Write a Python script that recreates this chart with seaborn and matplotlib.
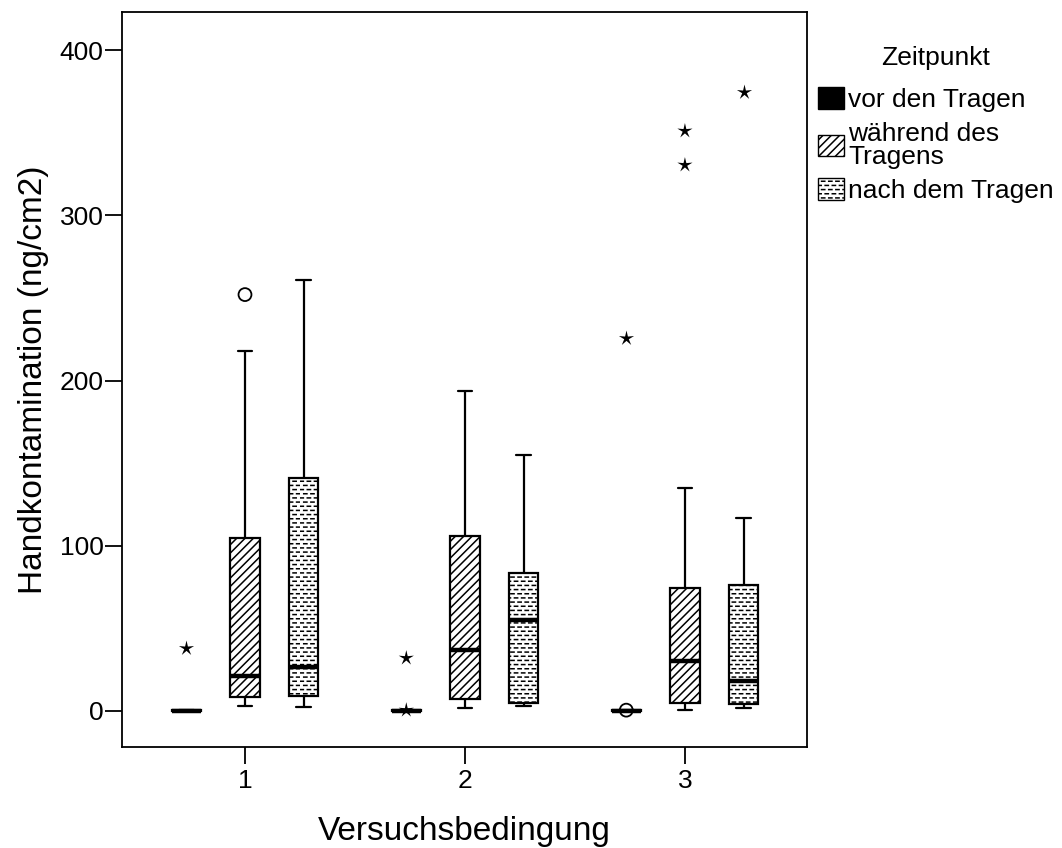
import warnings
import numpy as np
import pandas as pd
import matplotlib
matplotlib.use("Agg")
import matplotlib.pyplot as plt
from matplotlib.patches import Patch
from matplotlib.path import Path
from matplotlib import hatch as mhatch
import seaborn as sns

warnings.filterwarnings("ignore")

# ---------------- data ----------------
conditions = ["1", "2", "3"]
timepoints = ["vor den Tragen", "während des\nTragens", "nach dem Tragen"]

# five-number summaries per box: [whisker low, Q1, median, Q3, whisker high]
vor_stats = [[0.0, 0.0, 0.2, 0.4, 0.8],
             [0.0, 0.0, 0.2, 0.4, 0.8],
             [0.0, 0.0, 0.2, 0.4, 0.8]]
waehrend_stats = [[2.8, 8.3, 21.4, 104.9, 218.0],
                  [2.0, 7.0, 37.0, 105.9, 193.8],
                  [0.8, 4.8, 30.4, 74.2, 135.0]]
nach_stats = [[2.2, 9.0, 26.4, 141.0, 261.0],
              [3.0, 5.0, 55.0, 83.7, 155.0],
              [1.6, 4.1, 18.2, 76.0, 116.8]]

# outliers (SPSS: stars = extreme, circles = mild)
star_cond = ["1", "2", "2", "3", "3", "3", "3"]
star_time = [timepoints[0], timepoints[0], timepoints[0], timepoints[0],
             timepoints[1], timepoints[1], timepoints[2]]
star_vals = [38.0, 32.0, 0.5, 225.7, 351.0, 330.4, 374.8]

circle_cond = ["1", "3"]
circle_time = [timepoints[1], timepoints[0]]
circle_vals = [252.0, 0.5]

yticks = [0, 100, 200, 300, 400]
xlabel = "Versuchsbedingung"
ylabel = "Handkontamination (ng/cm2)"
legend_title = "Zeitpunkt"


# ---------------- custom SPSS-like dash hatch ----------------
class DashHatch(mhatch.HatchPatternBase):
    def __init__(self, hatch, density):
        n = hatch.count("=")
        self.num_rows = 24 * n
        self.num_cols = 14 * n
        self.num_vertices = self.num_rows * self.num_cols * 2 if n else 0

    def set_vertices_and_codes(self, vertices, codes):
        dash = 0.45 / self.num_cols
        k = 0
        for r in range(self.num_rows):
            yy = (r + 0.5) / self.num_rows
            shift = 0.5 / self.num_cols if r % 2 else 0.0
            for c in range(self.num_cols):
                x0 = c / self.num_cols + shift + 0.02 / self.num_cols
                vertices[k] = (x0, yy)
                vertices[k + 1] = (x0 + dash, yy)
                codes[k] = Path.MOVETO
                codes[k + 1] = Path.LINETO
                k += 2


mhatch._hatch_types.append(DashHatch)

# ---------------- build frames ----------------
rows = []
for tp, stats in zip(timepoints, [vor_stats, waehrend_stats, nach_stats]):
    for cond, st in zip(conditions, stats):
        for v in st:
            rows.append({"Bedingung": cond, "Zeitpunkt": tp, "Wert": v})
df = pd.DataFrame(rows)
df_star = pd.DataFrame({"Bedingung": star_cond, "Zeitpunkt": star_time, "Wert": star_vals})
df_circ = pd.DataFrame({"Bedingung": circle_cond, "Zeitpunkt": circle_time, "Wert": circle_vals})

# ---------------- style ----------------
sns.set_style("white")
plt.rcParams["font.family"] = ["Liberation Sans", "DejaVu Sans"]
plt.rcParams["hatch.linewidth"] = 1.1
plt.rcParams["hatch.color"] = "black"
for key in ["text.color", "axes.labelcolor", "xtick.color", "ytick.color"]:
    plt.rcParams[key] = "black"

fig = plt.figure(figsize=(10.62, 8.48), dpi=100)
ax = fig.add_axes([0.1149, 0.1191, 0.645, 0.8667])

fill_colors = {timepoints[0]: "black", timepoints[1]: "white", timepoints[2]: "white"}
hatches = {timepoints[0]: "", timepoints[1]: "////", timepoints[2]: "="}

sns.boxplot(data=df, x="Bedingung", y="Wert", hue="Zeitpunkt",
            order=conditions, hue_order=timepoints, palette=fill_colors,
            whis=(0, 100), width=0.8, gap=0.5, linecolor="black", linewidth=1.6,
            medianprops=dict(linewidth=3.2, color="black"),
            showfliers=False, legend=False, ax=ax)

# hatch boxes according to dodge position
for p in ax.patches:
    ext = p.get_path().get_extents(p.get_transform() - ax.transData)
    cx = (ext.x0 + ext.x1) / 2
    off = cx - round(cx)
    if off < -0.1:
        tp = timepoints[0]
    elif off > 0.1:
        tp = timepoints[2]
    else:
        tp = timepoints[1]
    p.set_hatch(hatches[tp])
    p.set_edgecolor("black")

star_marker = Path.unit_regular_star(5, innerCircle=0.3)
black_pal = {tp: "black" for tp in timepoints}
sns.stripplot(data=df_star, x="Bedingung", y="Wert", hue="Zeitpunkt",
              order=conditions, hue_order=timepoints, palette=black_pal,
              dodge=True, jitter=False, marker=star_marker, size=11.5, linewidth=0,
              legend=False, ax=ax)
n1 = len(ax.collections)
sns.stripplot(data=df_circ, x="Bedingung", y="Wert", hue="Zeitpunkt",
              order=conditions, hue_order=timepoints, palette=black_pal,
              dodge=True, jitter=False, marker="o", size=9.3,
              legend=False, ax=ax)
for c in ax.collections[n1:]:
    c.set_facecolor("none")
    c.set_edgecolor("black")
    c.set_linewidth(1.3)

ax.set_xlim(-0.559, 2.555)
ax.set_ylim(-21.8, 423)
ax.set_yticks(yticks)
ax.set_yticklabels([str(t) for t in yticks])
ax.tick_params(axis="both", which="major", direction="out", length=12, width=1.3,
               labelsize=19, colors="black", left=True, bottom=True)
ax.tick_params(axis="x", pad=3.5)
ax.tick_params(axis="y", pad=1.2)
for s in ax.spines.values():
    s.set_visible(True)
    s.set_color("black")
    s.set_linewidth(1.3)

ax.set_xlabel(xlabel, fontsize=24, labelpad=17)
ax.set_ylabel(ylabel, fontsize=24, labelpad=8)

handles = [Patch(facecolor=fill_colors[tp], edgecolor="black", hatch=hatches[tp], linewidth=1)
           for tp in timepoints]
leg = ax.legend(handles, timepoints, title=legend_title, loc="upper left",
                bbox_to_anchor=(1.0, 0.968), frameon=False, fontsize=19,
                title_fontsize=19, handlelength=1.02, handleheight=0.9,
                handletextpad=0.15, labelspacing=0.37, borderaxespad=0.0,
                borderpad=0.4)
for t in leg.get_texts():
    t.set_linespacing(0.95)
leg._legend_box.sep = 12

fig.savefig("out.png", dpi=100)
